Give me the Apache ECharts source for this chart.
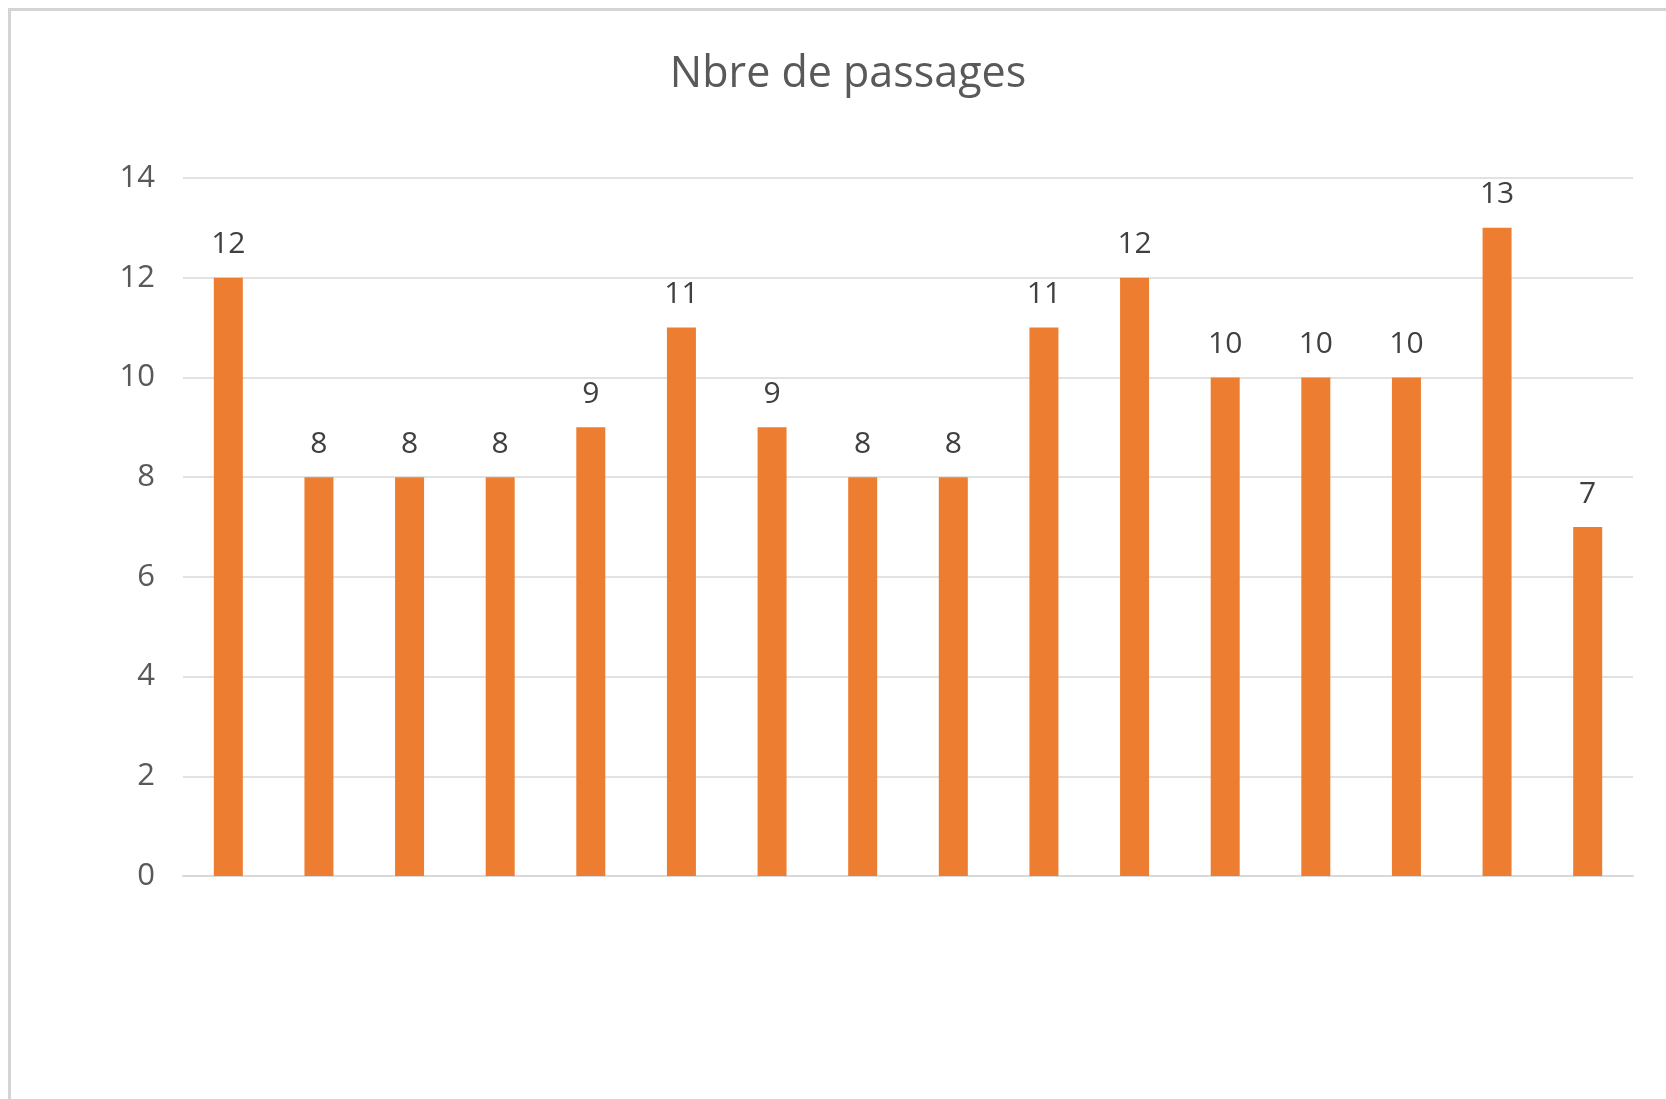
<!DOCTYPE html>
<html>
<head>
<meta charset="utf-8">
<script src="https://cdn.jsdelivr.net/npm/echarts@6/dist/echarts.min.js"></script>
<style>
html,body{margin:0;padding:0;background:#fff;}
#chart{width:1666px;height:1099px;}
</style>
</head>
<body>
<div id="chart"></div>
<script>
var titleText = "Nbre de passages";
var categories = ["1","2","3","4","5","6","7","8","9","10","11","12","13","14","15","16"];
var values = [12,8,8,8,9,11,9,8,8,11,12,10,10,10,13,7];
var yTicks = [0,2,4,6,8,10,12,14];

var chart = echarts.init(document.getElementById('chart'));
chart.setOption({
  backgroundColor: '#ffffff',
  animation: false,
  graphic: [{
    type: 'rect',
    shape: {x: 9.5, y: 9.5, width: 1700, height: 1200},
    style: {fill: 'none', stroke: '#d4d4d4', lineWidth: 3},
    silent: true
  }],
  title: {
    text: titleText,
    left: 843, top: 48, textAlign: 'center',
    textStyle: {fontFamily: 'Open Sans', fontSize: 43, fontWeight: 'normal', color: '#595959'}
  },
  grid: {left: 183, right: 33, top: 178, bottom: 223, containLabel: false},
  xAxis: {
    type: 'category',
    data: categories,
    axisLine: {show: true, lineStyle: {color: '#d9d9d9', width: 2}},
    axisTick: {show: false},
    axisLabel: {show: false},
    splitLine: {show: false}
  },
  yAxis: {
    type: 'value',
    min: yTicks[0], max: yTicks[yTicks.length - 1], interval: 2,
    axisLine: {show: false},
    axisTick: {show: false},
    axisLabel: {margin: 28, fontFamily: 'Open Sans', fontSize: 31, color: '#595959'},
    splitLine: {lineStyle: {color: '#d9d9d9', width: 1.5}}
  },
  series: [{
    type: 'bar',
    data: values,
    barWidth: 29,
    itemStyle: {color: '#ED7D31'},
    label: {
      show: true, position: 'top', distance: 18,
      fontFamily: 'Open Sans', fontSize: 30, color: '#404040'
    }
  }]
});
</script>
</body>
</html>
